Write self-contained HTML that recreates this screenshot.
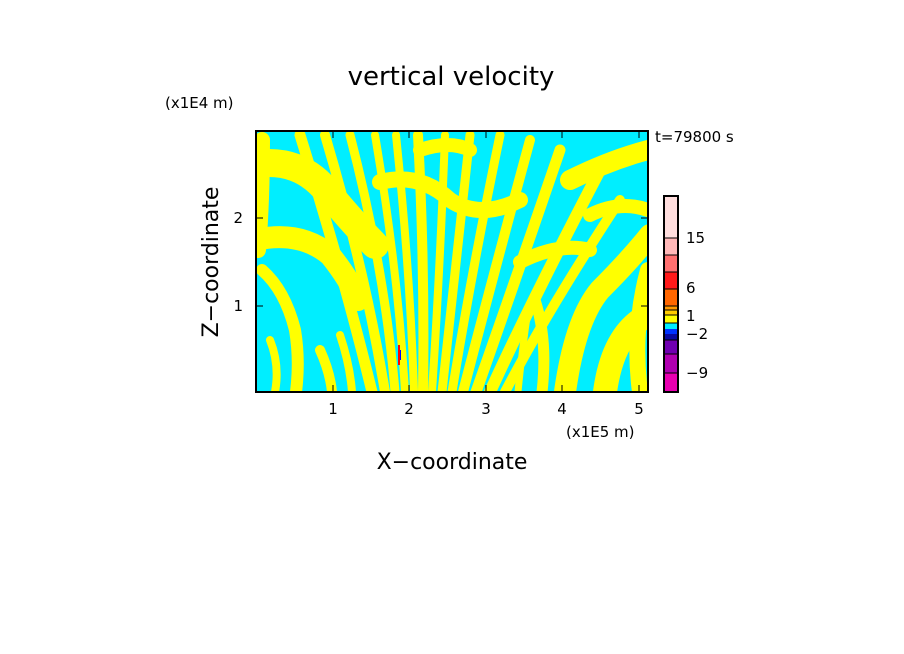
<!DOCTYPE html>
<html><head><style>
body{margin:0;background:#fff;width:904px;height:654px;overflow:hidden;font-family:"DejaVu Sans","Liberation Sans",sans-serif;}
svg{position:absolute;left:0;top:0}
</style></head><body>
<svg width="904" height="654" viewBox="0 0 904 654">
<defs><clipPath id="c"><rect x="256" y="131" width="392" height="261"/></clipPath></defs>
<rect x="256" y="131" width="392" height="261" fill="#00eeff"/>
<g clip-path="url(#c)" fill="none" stroke="#ffff00" stroke-linecap="round">
 <path d="M250 165 Q300 155 330 195 Q355 225 375 245" stroke-width="28"/>
 <path d="M255 240 Q300 230 330 255 Q350 280 358 300" stroke-width="22"/>
 <path d="M262 270 Q285 290 295 330 Q300 360 296 392" stroke-width="12"/>
 <path d="M262 140 Q262 200 258 250" stroke-width="16"/>
 <path d="M270 340 Q280 365 275 392" stroke-width="8"/>
 <path d="M320 350 Q330 372 332 392" stroke-width="10"/>
 <path d="M340 335 Q350 365 352 392" stroke-width="8"/>
 <path d="M372 392 Q345 280 300 135" stroke-width="11"/>
 <path d="M385 392 Q365 270 325 135" stroke-width="10"/>
 <path d="M395 392 Q385 270 350 135" stroke-width="9"/>
 <path d="M405 392 Q398 270 375 135" stroke-width="8"/>
 <path d="M414 392 Q410 270 396 135" stroke-width="8"/>
 <path d="M423 392 Q425 270 418 135" stroke-width="10"/>
 <path d="M432 392 Q440 270 445 135" stroke-width="8"/>
 <path d="M442 392 Q455 270 470 135" stroke-width="9"/>
 <path d="M452 392 Q472 270 500 135" stroke-width="9"/>
 <path d="M463 392 Q492 280 530 140" stroke-width="10"/>
 <path d="M476 392 Q512 290 560 150" stroke-width="11"/>
 <path d="M490 392 Q532 300 600 170" stroke-width="12"/>
 <path d="M505 392 Q548 310 620 200" stroke-width="10"/>
 <path d="M380 182 Q420 172 450 200 Q480 220 520 200" stroke-width="16"/>
 <path d="M420 150 Q450 140 470 150" stroke-width="14"/>
 <path d="M565 392 Q575 320 600 290 Q630 260 650 235" stroke-width="22"/>
 <path d="M605 392 Q612 340 640 320" stroke-width="24"/>
 <path d="M640 392 Q632 330 648 270" stroke-width="16"/>
 <path d="M570 180 Q610 160 648 150" stroke-width="20"/>
 <path d="M590 215 Q620 200 648 210" stroke-width="14"/>
 <path d="M520 262 Q560 242 590 250" stroke-width="14"/>
 <path d="M535 300 Q548 340 542 392" stroke-width="11"/>
 <path d="M518 392 Q522 350 528 310" stroke-width="7"/>
</g>
<rect x="398" y="345" width="2" height="20" fill="#ff0000"/>
<rect x="400" y="350" width="1" height="10" fill="#0000ff"/>
<rect x="256" y="131" width="392" height="261" fill="none" stroke="#000" stroke-width="2"/>
<g stroke="#000" stroke-width="1">
 <line x1="333" y1="392" x2="333" y2="385"/><line x1="409" y1="392" x2="409" y2="385"/><line x1="486" y1="392" x2="486" y2="385"/><line x1="562" y1="392" x2="562" y2="385"/><line x1="639" y1="392" x2="639" y2="385"/>
 <line x1="333" y1="131" x2="333" y2="138"/><line x1="409" y1="131" x2="409" y2="138"/><line x1="486" y1="131" x2="486" y2="138"/><line x1="562" y1="131" x2="562" y2="138"/><line x1="639" y1="131" x2="639" y2="138"/>
 <line x1="256" y1="306" x2="263" y2="306"/><line x1="256" y1="218" x2="263" y2="218"/>
 <line x1="648" y1="306" x2="641" y2="306"/><line x1="648" y1="218" x2="641" y2="218"/>
</g>
<g font-size="15" fill="#000">
 <text x="451" y="85" font-size="26" text-anchor="middle">vertical velocity</text>
 <text x="165" y="108">(x1E4 m)</text>
 <text x="566" y="437">(x1E5 m)</text>
 <text x="452" y="469" font-size="22" text-anchor="middle">X−coordinate</text>
 <text x="218" y="262" font-size="22" text-anchor="middle" transform="rotate(-90 218 262)">Z−coordinate</text>
 <text x="333" y="414" text-anchor="middle">1</text><text x="409" y="414" text-anchor="middle">2</text><text x="486" y="414" text-anchor="middle">3</text><text x="562" y="414" text-anchor="middle">4</text><text x="639" y="414" text-anchor="middle">5</text>
 <text x="243" y="311" text-anchor="end">1</text><text x="243" y="223" text-anchor="end">2</text>
 <text x="655" y="142">t=79800 s</text>
 <text x="686" y="243">15</text><text x="686" y="293">6</text><text x="686" y="321">1</text><text x="686" y="339">−2</text><text x="686" y="378">−9</text>
</g>
<g>
 <rect x="664" y="196" width="14" height="42" fill="#ffdede"/>
 <rect x="664" y="238" width="14" height="17" fill="#ffb8b8"/>
 <rect x="664" y="255" width="14" height="17" fill="#ff7070"/>
 <rect x="664" y="272" width="14" height="17" fill="#ff1a1a"/>
 <rect x="664" y="289" width="14" height="17" fill="#ff6600"/>
 <rect x="664" y="306" width="14" height="4" fill="#ff9900"/>
 <rect x="664" y="310" width="14" height="5" fill="#ffcc00"/>
 <rect x="664" y="315" width="14" height="8" fill="#ffff00"/>
 <rect x="664" y="323" width="14" height="6" fill="#00eeff"/>
 <rect x="664" y="329" width="14" height="5" fill="#0033ff"/>
 <rect x="664" y="334" width="14" height="6" fill="#0a0aa0"/>
 <rect x="664" y="340" width="14" height="14" fill="#7000b0"/>
 <rect x="664" y="354" width="14" height="19" fill="#b000b0"/>
 <rect x="664" y="373" width="14" height="19" fill="#e800b0"/>
 <g stroke="#000" stroke-width="1"><line x1="664" y1="238" x2="678" y2="238"/><line x1="664" y1="255" x2="678" y2="255"/><line x1="664" y1="272" x2="678" y2="272"/><line x1="664" y1="289" x2="678" y2="289"/><line x1="664" y1="306" x2="678" y2="306"/><line x1="664" y1="310" x2="678" y2="310"/><line x1="664" y1="315" x2="678" y2="315"/><line x1="664" y1="323" x2="678" y2="323"/><line x1="664" y1="340" x2="678" y2="340"/><line x1="664" y1="354" x2="678" y2="354"/><line x1="664" y1="373" x2="678" y2="373"/></g>
 <rect x="664" y="196" width="14" height="196" fill="none" stroke="#000" stroke-width="2"/>
</g>
</svg>
</body></html>
